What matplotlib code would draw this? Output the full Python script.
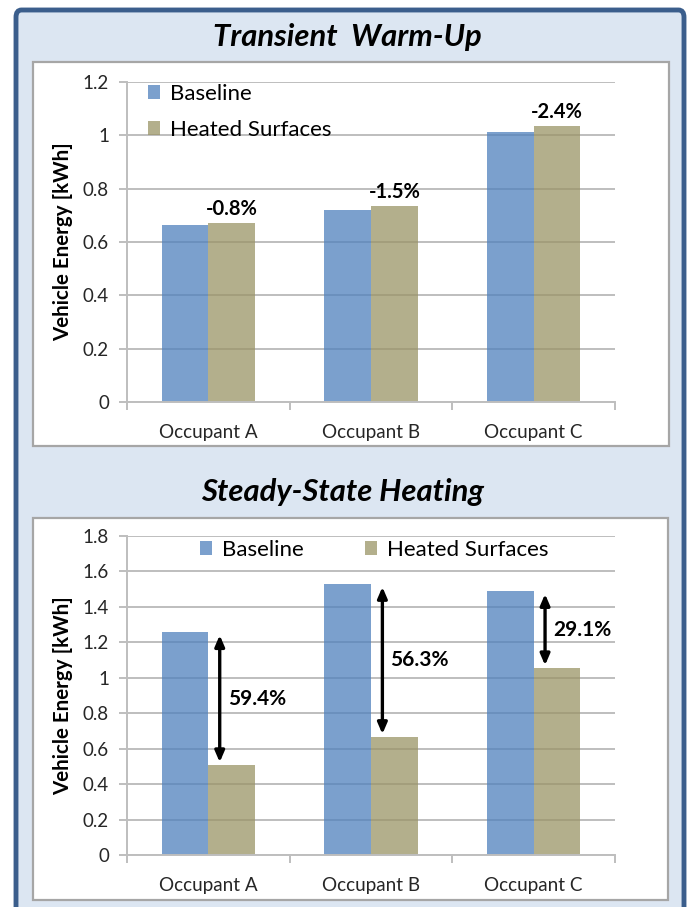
import matplotlib
matplotlib.use("Agg")
import matplotlib.pyplot as plt
from matplotlib.patches import FancyBboxPatch, Rectangle, Patch

plt.rcParams['font.family'] = ['Lato', 'DejaVu Sans']

categories = ["Occupant A", "Occupant B", "Occupant C"]
series_names = ["Baseline", "Heated Surfaces"]

warmup_baseline = [0.665, 0.720, 1.013]
warmup_heated = [0.671, 0.734, 1.036]
warmup_labels = ["-0.8%", "-1.5%", "-2.4%"]

steady_baseline = [1.256, 1.528, 1.488]
steady_heated = [0.508, 0.667, 1.055]
steady_labels = ["59.4%", "56.3%", "29.1%"]

warmup_ticks = [0, 0.2, 0.4, 0.6, 0.8, 1, 1.2]
steady_ticks = [0, 0.2, 0.4, 0.6, 0.8, 1, 1.2, 1.4, 1.6, 1.8]

titles = ["Transient  Warm-Up", "Steady-State Heating"]
ylabel = "Vehicle Energy [kWh]"

BLUE = "#4F81BD"
TAN = "#9A9466"
GRID = "#BEBEBE"

W, H = 687, 907
fig = plt.figure(figsize=(W / 100, H / 100), dpi=100)
fig.patch.set_facecolor("white")


def px_box(x0, y0, x1, y1):
    """Convert pixel box (top-left origin) to figure fraction."""
    return x0 / W, 1 - y1 / H, (x1 - x0) / W, (y1 - y0) / H


# outer frame
fx, fy, fw, fh = px_box(16, 10, 684, 930)
fig.patches.append(FancyBboxPatch((fx, fy), fw, fh,
                                  boxstyle="round,pad=0,rounding_size=0.008",
                                  transform=fig.transFigure, facecolor="#DCE6F2",
                                  edgecolor="#3B5E8C", linewidth=3.5, zorder=-3))

# white chart panels
for box in [(33, 62, 669, 446), (33, 518, 668, 900)]:
    bx, by, bw, bh = px_box(*box)
    fig.patches.append(Rectangle((bx, by), bw, bh, transform=fig.transFigure,
                                 facecolor="white", edgecolor="#A6A6A6",
                                 linewidth=1.6, zorder=-2))

# panel titles
fig.text(347 / W, 1 - 37 / H, titles[0], ha="center", va="center",
         fontsize=22.3, fontweight="bold", fontstyle="italic", color="black")
fig.text(343 / W, 1 - 492 / H, titles[1], ha="center", va="center",
         fontsize=22.3, fontweight="bold", fontstyle="italic", color="black")

ax_top = fig.add_axes(px_box(127, 82, 615, 402))
ax_bot = fig.add_axes(px_box(127, 536, 615, 855))

bar_w = 0.287
xs = list(range(len(categories)))


def style_axes(ax, ticks):
    ax.set_facecolor("none")
    ax.set_xlim(-0.5, len(categories) - 0.5)
    ax.set_ylim(0, ticks[-1])
    ax.set_yticks(ticks)
    ax.set_yticklabels([f"{t:g}" for t in ticks], fontsize=13.5, color="#262626")
    ax.yaxis.grid(True, color=GRID, linewidth=1.4)
    ax.set_axisbelow(True)
    for side in ("top", "right"):
        ax.spines[side].set_visible(False)
    for side in ("left", "bottom"):
        ax.spines[side].set_color(GRID)
        ax.spines[side].set_linewidth(1.4)
    ax.set_xticks(xs)
    ax.set_xticklabels(categories, fontsize=13.6, color="#262626")
    ax.tick_params(axis="x", length=0, pad=16)
    ax.set_xticks([x - 0.5 for x in xs] + [xs[-1] + 0.5], minor=True)
    ax.tick_params(axis="x", which="minor", length=6, color=GRID, width=1.4)
    ax.tick_params(axis="y", length=6, color=GRID, width=1.4, pad=7)
    ax.set_ylabel(ylabel, fontsize=14.8, fontweight="bold", labelpad=7)


def draw_bars(ax, base, heated):
    b = ax.bar([x - bar_w / 2 for x in xs], base, width=bar_w, color=BLUE,
               alpha=0.75, linewidth=0, label=series_names[0])
    h = ax.bar([x + bar_w / 2 for x in xs], heated, width=bar_w, color=TAN,
               alpha=0.75, linewidth=0, label=series_names[1])
    return b, h


legend_kw = dict(frameon=False, fontsize=16, handlelength=0.55, handleheight=0.55,
                 handletextpad=0.45, borderaxespad=0, bbox_transform=fig.transFigure)

# Transient warm-up
style_axes(ax_top, warmup_ticks)
draw_bars(ax_top, warmup_baseline, warmup_heated)
for x, v, lab in zip(xs, warmup_heated, warmup_labels):
    ax_top.annotate(lab, (x + bar_w / 2, v), xytext=(0, 3),
                    textcoords="offset points", ha="center", va="bottom",
                    fontsize=14.5, fontweight="bold")
handles = [Patch(facecolor=BLUE, alpha=0.75), Patch(facecolor=TAN, alpha=0.75)]
ax_top.legend(handles, series_names, loc="upper left",
              bbox_to_anchor=(139 / W, 1 - 75 / H), labelspacing=0.72, **legend_kw)

# Steady-state heating
style_axes(ax_bot, steady_ticks)
draw_bars(ax_bot, steady_baseline, steady_heated)
for x, b, h, lab in zip(xs, steady_baseline, steady_heated, steady_labels):
    ax_bot.annotate("", xy=(x + 0.07, h), xytext=(x + 0.07, b),
                    arrowprops=dict(arrowstyle="<|-|>,head_length=0.65,head_width=0.28",
                                    color="black", lw=2.4, shrinkA=2, shrinkB=2))
    ax_bot.text(x + 0.12, (b + h) / 2, lab, ha="left", va="center",
                fontsize=15, fontweight="bold")
ax_bot.legend(handles, series_names, loc="center left", ncol=2,
              bbox_to_anchor=(191 / W, 1 - 550 / H), columnspacing=2.75, **legend_kw)

fig.savefig("out.png", dpi=100)
